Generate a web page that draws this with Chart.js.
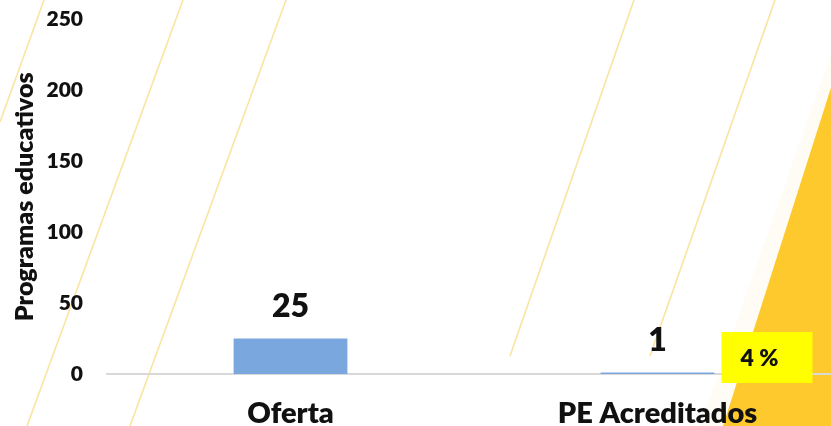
<!DOCTYPE html>
<html>
<head>
<meta charset="utf-8">
<script src="https://cdn.jsdelivr.net/npm/chart.js@4"></script>
<style>
  html, body { margin:0; padding:0; background:#ffffff; overflow:hidden; width:831px; height:426px; position:relative; }
  #wrap { position:absolute; left:0; top:-17px; width:841px; height:443px; }
</style>
</head>
<body>
<div id="wrap"><canvas id="c"></canvas></div>
<script>
const categories = ['Oferta', 'PE Acreditados'];
const values = [25, 1];
const yTickValues = [0, 50, 100, 150, 200, 250];
const shareLabels = ['', '4 %'];
const axisTitle = 'Programas educativos';

const FONT = 'Lato, "Open Sans", sans-serif';
const W = '800';
const OY = 17; // canvas is shifted up by this many pixels

// decorative background (slide design), in window coordinates
const bgPlugin = {
  id: 'bg',
  beforeDraw(chart) {
    const ctx = chart.ctx;
    ctx.save();
    ctx.fillStyle = '#ffffff';
    ctx.fillRect(0, 0, chart.width, chart.height);
    ctx.translate(0, OY);
    ctx.fillStyle = 'rgba(250,225,150,0.10)';
    ctx.beginPath();
    ctx.moveTo(850, 0); ctx.lineTo(700, 426); ctx.lineTo(723, 426); ctx.lineTo(850, 28);
    ctx.closePath(); ctx.fill();
    ctx.fillStyle = '#fdc92c';
    ctx.beginPath();
    ctx.moveTo(850, 28); ctx.lineTo(723, 426); ctx.lineTo(850, 426);
    ctx.closePath(); ctx.fill();
    ctx.strokeStyle = 'rgba(246,218,120,0.7)';
    ctx.lineWidth = 1.6;
    const segs = [[44,0,0,122],[183,0,27,426],[286,0,130,426],[634,0,510,356],[775,0,650,356]];
    segs.forEach(s => { ctx.beginPath(); ctx.moveTo(s[0], s[1]); ctx.lineTo(s[2], s[3]); ctx.stroke(); });
    ctx.restore();
  }
};

const labelPlugin = {
  id: 'vals',
  afterDatasetsDraw(chart) {
    const ctx = chart.ctx;
    const meta = chart.getDatasetMeta(0);
    const xs = chart.scales.x, ys = chart.scales.y;
    ctx.save();
    ctx.fillStyle = '#111111';
    ctx.font = W + ' 32px ' + FONT;
    ctx.textAlign = 'center';
    ctx.textBaseline = 'bottom';
    meta.data.forEach((bar, i) => {
      ctx.fillText(String(values[i]), bar.x, bar.y - 16);
    });
    shareLabels.forEach((t, i) => {
      if (!t) return;
      const cx = xs.getPixelForValue(i) + 109;
      const base = ys.getPixelForValue(0);
      ctx.fillStyle = '#ffff00';
      ctx.fillRect(cx - 45, base - 42, 91, 51);
      ctx.fillStyle = '#111111';
      ctx.font = W + ' 23px ' + FONT;
      ctx.textBaseline = 'middle';
      ctx.fillText(t, cx - 7, base - 15);
    });
    ctx.restore();
  }
};

new Chart(document.getElementById('c'), {
  type: 'bar',
  data: {
    labels: categories,
    datasets: [{
      data: values,
      backgroundColor: '#7ba7df',
      borderWidth: 0,
      barPercentage: 0.31,
      categoryPercentage: 1.0
    }]
  },
  plugins: [bgPlugin, labelPlugin],
  options: {
    responsive: true,
    maintainAspectRatio: false,
    animation: false,
    layout: { padding: { top: 0, left: 0, right: 0, bottom: 0 } },
    plugins: { legend: { display: false }, tooltip: { enabled: false } },
    scales: {
      x: {
        afterFit(axis) { axis.height = 52; },
        grid: { display: false, drawTicks: false },
        border: { display: true, color: '#d9d9d9', width: 2 },
        ticks: { color: '#111111', padding: 22, maxRotation: 0, font: { family: FONT, size: 29, weight: W } }
      },
      y: {
        min: 0, max: 250,
        afterFit(axis) { axis.width = 107; },
        afterBuildTicks(axis) { axis.ticks = yTickValues.map(v => ({ value: v })); },
        grid: { display: false, drawTicks: false },
        border: { display: false },
        ticks: { color: '#111111', padding: 24, font: { family: FONT, size: 21, weight: W } },
        title: { display: true, text: axisTitle, color: '#111111', padding: { top: 10, bottom: 0 }, font: { family: FONT, size: 25, weight: W } }
      }
    }
  }
});
</script>
</body>
</html>
